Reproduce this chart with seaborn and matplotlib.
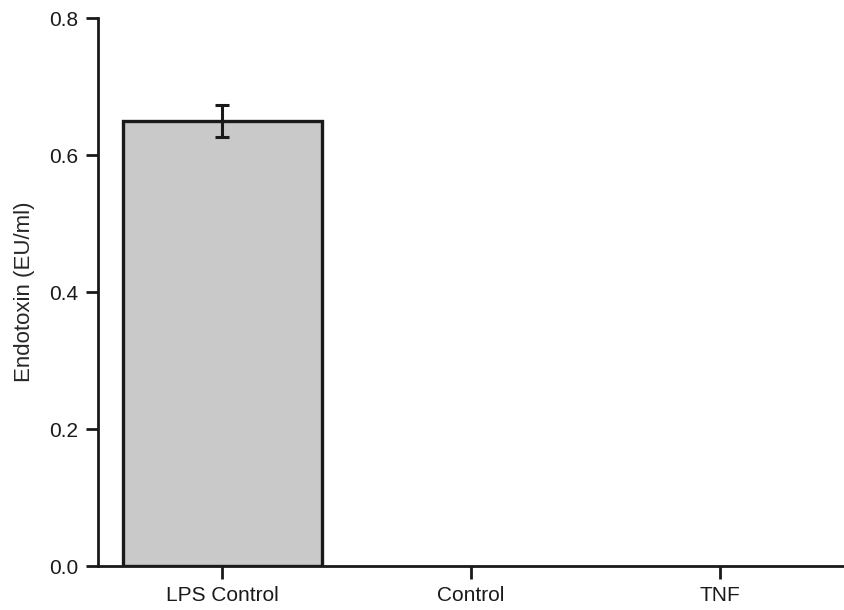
import matplotlib
matplotlib.use("Agg")
import matplotlib.pyplot as plt
import seaborn as sns
import pandas as pd

# Endotoxin measurements per treatment group
groups = ["LPS Control", "Control", "TNF"]
endotoxin = [0.65, 0.0, 0.0]
sem = [0.024, 0.0, 0.0]

sns.set_theme(style="ticks")
plt.rcParams["font.family"] = ["Liberation Sans", "DejaVu Sans"]

df = pd.DataFrame({"group": groups, "endotoxin": endotoxin})

fig = plt.figure(figsize=(8.44, 6.10), dpi=100)
ax = fig.add_axes([0.116, 0.072, 0.884, 0.898])

sns.barplot(data=df, x="group", y="endotoxin", order=groups,
            color="#c9c9c9", saturation=1, edgecolor="#1a1a1a",
            linewidth=2.4, width=0.8, errorbar=None, ax=ax)

# Bars with no measurable value get no outline
for patch, v in zip(ax.patches, endotoxin):
    if v == 0:
        patch.set_linewidth(0)

# Error bar only where there is a measurable value
for i, (m, e) in enumerate(zip(endotoxin, sem)):
    if e > 0:
        ax.errorbar(i, m, yerr=e, fmt="none", ecolor="#1a1a1a",
                    elinewidth=2.2, capsize=5, capthick=2.2, zorder=5)

ax.set_ylim(0, 0.8)
ax.set_xlim(-0.5, 2.5)
ax.set_yticks([0.0, 0.2, 0.4, 0.6, 0.8])
ax.set_yticklabels(["0.0", "0.2", "0.4", "0.6", "0.8"], fontsize=15)
ax.set_xticks(range(len(groups)))
ax.set_xticklabels(groups, fontsize=15)
ax.set_xlabel("")
ax.set_ylabel("Endotoxin (EU/ml)", fontsize=16, labelpad=10)

for side in ["top", "right"]:
    ax.spines[side].set_visible(False)
for side in ["left", "bottom"]:
    ax.spines[side].set_linewidth(2.0)
    ax.spines[side].set_color("#1a1a1a")
ax.tick_params(axis="both", direction="out", length=9, width=2.0,
               color="#1a1a1a", labelcolor="#1a1a1a", pad=5)

fig.savefig("out.png", dpi=100, facecolor="white")
